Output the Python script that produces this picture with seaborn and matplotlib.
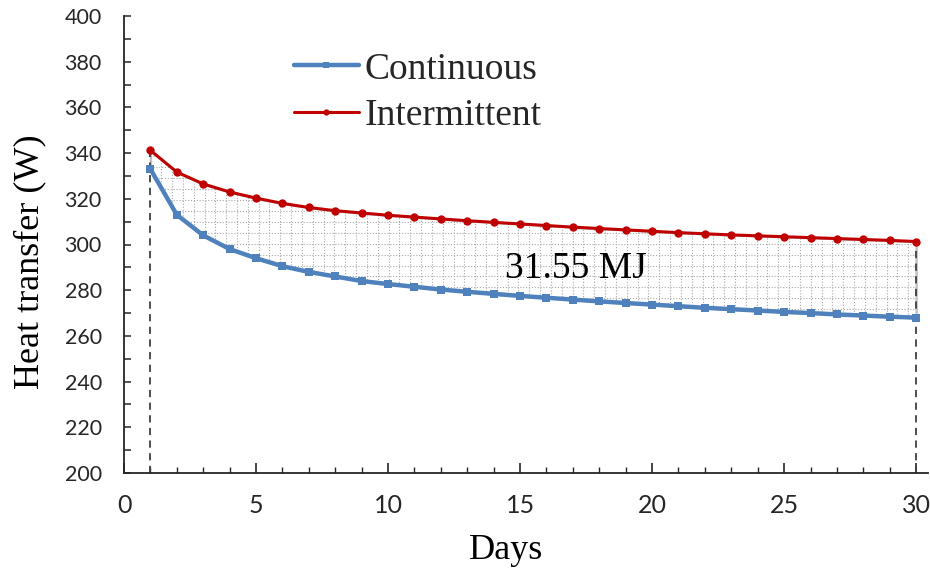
import matplotlib.pyplot as plt
import numpy as np
import pandas as pd
import seaborn as sns
from matplotlib.ticker import MultipleLocator

# ============
# Data
# ============
days = list(range(1, 31))
continuous = [
    333.0, 313.0, 304.0, 298.0, 294.0, 290.5, 288.0, 286.0, 284.0, 282.7,
    281.5, 280.3, 279.3, 278.4, 277.5, 276.7, 275.9, 275.1, 274.4, 273.7,
    273.0, 272.3, 271.7, 271.1, 270.5, 270.0, 269.4, 268.9, 268.4, 268.0,
]
intermittent = [
    341.2, 331.7, 326.5, 323.0, 320.3, 318.0, 316.2, 314.8, 313.8, 312.8,
    312.0, 311.2, 310.4, 309.7, 309.0, 308.3, 307.6, 307.0, 306.4, 305.8,
    305.2, 304.7, 304.2, 303.8, 303.4, 303.0, 302.6, 302.2, 301.8, 301.3,
]
series_names = ["Continuous", "Intermittent"]
energy_label = "31.55 MJ"

df = pd.DataFrame({"Days": days, "Continuous": continuous, "Intermittent": intermittent})

sns.set_theme(style="ticks")
plt.rcParams["font.family"] = ["Liberation Serif", "DejaVu Serif"]

fig = plt.figure(figsize=(9.3, 5.71), dpi=100)
ax = fig.add_axes([124 / 930, 1 - 473 / 571, 804 / 930, 457 / 571])

# shaded area between the two curves, with a dotted grid pattern
poly = ax.fill_between(
    df["Days"], df["Continuous"], df["Intermittent"],
    facecolor="white", edgecolor="#c4c4c4", linewidth=1.8, zorder=1,
)
clip_path = poly.get_paths()[0]
vl = ax.vlines(np.arange(1, 30.2, 0.41), 200, 400, colors="#a8a8a8",
               linewidth=0.8, linestyles=(0, (1, 1.6)), zorder=1.5)
hl = ax.hlines(np.arange(262, 345, 4.8), 0, 31, colors="#a8a8a8",
               linewidth=0.8, linestyles=(0, (1, 1.6)), zorder=1.5)
for coll in (vl, hl):
    coll.set_clip_path(clip_path, ax.transData)

# dashed markers at the first and last day
ends = df.iloc[[0, -1]]
ax.vlines(ends["Days"], 200, ends["Intermittent"], colors="#404040",
          linewidth=1.3, linestyles=(0, (4, 3)), zorder=2)

sns.lineplot(data=df, x="Days", y="Continuous", ax=ax, color="#4f81bd",
             linewidth=3.2, marker="s", markersize=6, markeredgewidth=0,
             label=series_names[0], zorder=4)
sns.lineplot(data=df, x="Days", y="Intermittent", ax=ax, color="#c00000",
             linewidth=2.2, marker="o", markersize=6, markeredgewidth=0,
             label=series_names[1], zorder=4)

ax.text(17.1, 289.5, energy_label, fontsize=27, ha="center", va="center",
        color="black", zorder=5)

ax.set_xlim(0, 30.45)
ax.set_ylim(200, 400)
ax.xaxis.set_major_locator(MultipleLocator(5))
ax.xaxis.set_minor_locator(MultipleLocator(1))
ax.yaxis.set_major_locator(MultipleLocator(20))
ax.yaxis.set_minor_locator(MultipleLocator(10))

for side in ("top", "right"):
    ax.spines[side].set_visible(False)
for side in ("left", "bottom"):
    ax.spines[side].set_linewidth(1.3)
    ax.spines[side].set_color("#262626")

ax.tick_params(axis="x", which="major", direction="in", length=7, width=1.2,
               color="#262626", pad=15, labelcolor="#262626")
ax.tick_params(axis="x", which="minor", direction="in", length=4, width=1.0,
               color="#262626")
ax.tick_params(axis="y", which="both", direction="in", length=5, width=1.1,
               color="#262626", pad=16, labelcolor="#262626")
for lab in ax.get_xticklabels():
    lab.set_family(["Lato", "DejaVu Sans"])
    lab.set_fontsize(18)
for lab in ax.get_yticklabels():
    lab.set_family(["Lato", "DejaVu Sans"])
    lab.set_fontsize(15.5)

ax.set_xlabel("Days", fontsize=26, color="black")
ax.set_ylabel("Heat transfer (W)", fontsize=26, color="black")
ax.xaxis.set_label_coords(0.475, -0.133)
ax.yaxis.set_label_coords(-0.096, 0.462)

ax.legend(loc="upper left", bbox_to_anchor=(0.211, 0.921), frameon=False,
          fontsize=27, handlelength=1.75, handletextpad=0.15,
          labelspacing=0.31, borderpad=0, borderaxespad=0, markerscale=0.75)

fig.savefig("out.png", dpi=100)
